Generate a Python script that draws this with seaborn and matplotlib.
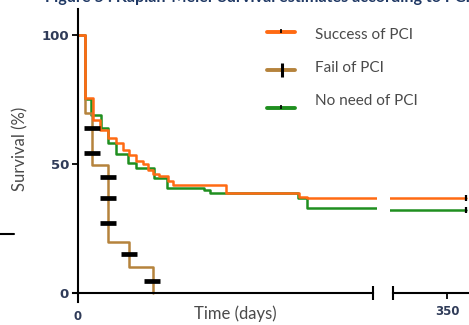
import numpy as np
import pandas as pd
import matplotlib
matplotlib.use("Agg")
import matplotlib.pyplot as plt
from matplotlib.lines import Line2D
import seaborn as sns

# ---------------- data ----------------
groups = ["Success of PCI", "Fail of PCI", "No need of PCI"]

success_t = [0, 2.5, 5, 7.5, 10, 12.9, 15.1, 17.4, 19.7, 21.9, 23.6, 25.5, 27.5, 30.5, 32.2, 50, 75, 77.6, 356.5]
success_s = [100, 75.5, 67, 63, 60, 58, 55.4, 53.5, 51, 49.8, 47.5, 46.2, 45.2, 43.4, 41.9, 38.6, 37.2, 36.9, 36.9]

fail_t = [0, 2.5, 4.7, 10, 17.4, 25.3]
fail_s = [100, 69.7, 49.6, 19.9, 10.2, 0]

noneed_t = [0, 2.5, 4.4, 7.8, 10, 13, 16.8, 19.7, 25.8, 30.0, 42.6, 44.9, 74.6, 77.6, 200, 356.5]
noneed_s = [100, 75, 69, 64, 58, 54, 50.5, 48.3, 44.5, 40.6, 40, 38.9, 36.8, 33, 32, 32]

# censored observations
fail_cens_t = [4.6, 4.6, 10.3, 10.3, 10.3, 17.2, 25.0]
fail_cens_s = [63.8, 54.4, 45, 36.7, 27, 15, 4.6]
end_cens_t = [356.5, 356.5]
end_cens_s = [36.9, 32]

y_ticks = [0, 50, 100]
x_ticks_left = [0]
x_ticks_right = [350]
title = "Figure 5 : Kaplan-Meier Survival estimates according to PCI"

colors = {"Success of PCI": "#ff6a13", "Fail of PCI": "#b5833c", "No need of PCI": "#1f8f1f"}

df = pd.concat([
    pd.DataFrame({"group": "Success of PCI", "time": success_t, "surv": success_s}),
    pd.DataFrame({"group": "Fail of PCI", "time": fail_t, "surv": fail_s}),
    pd.DataFrame({"group": "No need of PCI", "time": noneed_t, "surv": noneed_s}),
], ignore_index=True)

# ---------------- figure ----------------
sns.set_theme(style="ticks")
plt.rcParams["font.family"] = ["Lato", "DejaVu Sans"]

W, H = 469, 325
fig = plt.figure(figsize=(W / 100, H / 100), dpi=100)

def fx(px):
    return px / W

def fy(py):
    return 1 - py / H

ax1 = fig.add_axes([fx(73), (H - 302) / H, (376.6 - 73) / W, 293 / H])
ax2 = fig.add_axes([fx(390.1), (H - 302) / H, (476.5 - 390.1) / W, 293 / H])

draw_order = ["No need of PCI", "Fail of PCI", "Success of PCI"]
for ax in (ax1, ax2):
    for g in draw_order:
        sub = df[df["group"] == g]
        sns.lineplot(data=sub, x="time", y="surv", ax=ax, color=colors[g],
                     drawstyle="steps-post", estimator=None, sort=False,
                     linewidth=1.8, legend=False)
    ax.set_xlabel("")
    ax.set_ylabel("")
    ax.set_ylim(-3.5, 110)
    for s in ["top", "right"]:
        ax.spines[s].set_visible(False)
    ax.spines["bottom"].set_position(("data", 0))
    ax.spines["bottom"].set_linewidth(1.5)
    ax.spines["bottom"].set_color("black")

# fail censor marks
ax1.plot(fail_cens_t, fail_cens_s, linestyle="none", marker="_", ms=11,
         mew=3.4, color="black", zorder=5)
# end censor marks
ax2.plot(end_cens_t, end_cens_s, linestyle="none", marker="|", ms=4,
         mew=1.6, color="black", zorder=5, clip_on=False)

navy = "#2f3b58"
tick_font = ["DejaVu Sans"]
# left axis
ax1.set_xlim(-1.7, 101.2)
ax1.spines["left"].set_position(("data", 0))
ax1.spines["left"].set_linewidth(1.5)
ax1.spines["left"].set_color("black")
ax1.spines["bottom"].set_bounds(-1.7, 100)
ax1.set_yticks(y_ticks)
ax1.set_yticklabels([str(v) for v in y_ticks], fontweight="bold", color=navy,
                    fontsize=9.5, family=tick_font)
ax1.tick_params(axis="y", direction="out", length=4.5, width=1.3, pad=2, left=True, color="black")
ax1.set_xticks(x_ticks_left)
ax1.set_xticklabels([str(v) for v in x_ticks_left], fontweight="bold", color=navy,
                    fontsize=8.5, family=tick_font)
ax1.tick_params(axis="x", length=0, pad=12)
ax1.plot([100], [0], marker="|", ms=9.5, mew=1.5, color="black", clip_on=False)

# right axis
ax2.set_xlim(330.7, 360)
ax2.spines["left"].set_visible(False)
ax2.spines["bottom"].set_bounds(331.7, 360)
ax2.set_yticks([])
ax2.set_xticks(x_ticks_right)
ax2.set_xticklabels([str(v) for v in x_ticks_right], fontweight="bold", color=navy,
                    fontsize=8.5, family=tick_font)
ax2.tick_params(axis="x", direction="out", length=4.5, width=1.3, pad=4, bottom=True, color="black")
ax2.plot([331.7], [0], marker="|", ms=9.5, mew=1.5, color="black", clip_on=False)
for ax in (ax1, ax2):
    ax.patch.set_alpha(0)

# axis labels
label_col = "#4a4a4a"
fig.text(fx(20), fy(149), "Survival (%)", rotation=90, ha="center", va="center",
         fontsize=12, color=label_col)
fig.text(fx(235), fy(314), "Time (days)", ha="center", va="center",
         fontsize=12, color=label_col)

# title (cut off at the top, as in the reference)
fig.text(fx(45), fy(2), title, ha="left", va="baseline", fontweight="bold",
         color="#1f3864", fontsize=11.6)

# stray dash at the left
fig.add_artist(Line2D([0, fx(14)], [fy(233.5)] * 2, color="black", lw=1.5))

# legend (manual)
leg = [("Success of PCI", 31.7, 35, "small"),
       ("Fail of PCI", 70, 68, "big"),
       ("No need of PCI", 108, 101, "small")]
for name, ly, ty, mk in leg:
    fig.add_artist(Line2D([fx(267), fx(295)], [fy(ly)] * 2, color=colors[name], lw=2.8))
    if mk == "big":
        fig.add_artist(Line2D([fx(281.5)], [fy(ly)], marker="|", ms=10, mew=2.2, color="black"))
    else:
        fig.add_artist(Line2D([fx(281)], [fy(ly - 1)], marker="|", ms=2.5, mew=1.2, color="black"))
    fig.text(fx(315), fy(ty), name, ha="left", va="center", fontsize=11, color=label_col)

fig.savefig("out.png", dpi=100)
